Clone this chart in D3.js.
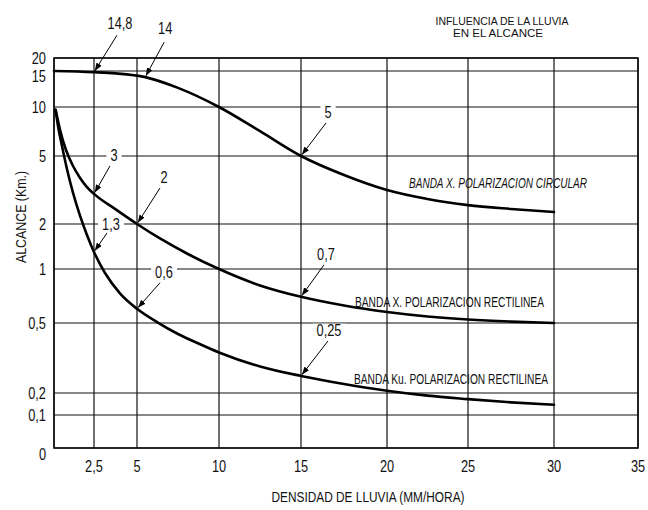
<!DOCTYPE html>
<html>
<head>
<meta charset="utf-8">
<script src="https://cdn.jsdelivr.net/npm/d3@7"></script>
<style>
  html, body { margin: 0; padding: 0; background: #fff; }
  svg { display: block; }
</style>
</head>
<body>
<svg id="chart" width="648" height="510"></svg>
<script>
// Influence of rainfall on radar range: range (km) against rain density (mm/h)

const xTicks = [2.5, 5, 10, 15, 20, 25, 30, 35];
const xTickLabels = ["2,5", "5", "10", "15", "20", "25", "30", "35"];
const yTicks = [0, 0.1, 0.2, 0.5, 1, 2, 5, 10, 15, 20];
const yTickLabels = ["0", "0,1", "0,2", "0,5", "1", "2", "5", "10", "15", "20"];

const seriesNames = [
  "BANDA X. POLARIZACION CIRCULAR",
  "BANDA X. POLARIZACION RECTILINEA",
  "BANDA Ku. POLARIZACION RECTILINEA"
];

// X band, circular polarisation
const circularRain  = [0, 2.5, 3.75, 5.5, 7.5, 10, 12.5, 15, 17.5, 20, 22.5, 25, 27.5, 30];
const circularRange = [15, 14.8, 14.6, 14, 12.4, 10, 7.1, 5, 3.87, 3.16, 2.8, 2.58, 2.45, 2.35];

// X band, linear polarisation
const xLinearRain  = [0.1, 0.38, 0.75, 1.19, 1.63, 2.06, 2.5, 3.72, 5, 6.4, 8.1, 10, 12.5, 15, 17.5, 20, 22.5, 25, 27.5, 30];
const xLinearRange = [9.6, 7.22, 5.44, 4.37, 3.72, 3.29, 3, 2.45, 2, 1.6, 1.26, 1, 0.81, 0.7, 0.626, 0.576, 0.544, 0.523, 0.509, 0.5];

// Ku band, linear polarisation
const kuLinearRain  = [0.1, 0.25, 0.5, 0.81, 1.19, 1.63, 2.06, 2.5, 3.14, 4.01, 5, 6.22, 7.5, 8.78, 10, 12.5, 15, 17.5, 20, 22.5, 25, 27.5, 30];
const kuLinearRange = [9.6, 7.64, 5.76, 4.2, 3.04, 2.23, 1.69, 1.3, 0.95, 0.732, 0.6, 0.506, 0.433, 0.381, 0.34, 0.283, 0.25, 0.225, 0.206, 0.184, 0.165, 0.149, 0.138];

// Value call-outs: series index, rain density, range, text
const annotSeries = [0, 0, 0, 1, 1, 1, 2, 2, 2];
const annotRain   = [2.5, 5.5, 15, 2.5, 5, 15, 2.5, 5, 15];
const annotRange  = [14.8, 14, 5, 3, 2, 0.7, 1.3, 0.6, 0.25];
const annotText   = ["14,8", "14", "5", "3", "2", "0,7", "1,3", "0,6", "0,25"];

// ---- layout ----
const FONT = "'Liberation Sans', Arial, sans-serif";
const INK = "#111";

// squeeze glyphs horizontally to get the narrow drafting lettering
function condense(sel, f) {
  sel.each(function () {
    const w = this.getComputedTextLength();
    d3.select(this).attr("textLength", w * f).attr("lengthAdjust", "spacingAndGlyphs");
  });
}

const svg = d3.select("#chart");
svg.append("rect").attr("width", 648).attr("height", 510).attr("fill", "#fff");

// hand-ruled grid: piecewise spacing on both axes
const xScale = d3.scaleLinear()
  .domain([0, ...xTicks])
  .range([54, 94, 137, 219, 301, 387, 468, 554, 638]);

const yLog = d3.scaleLinear()
  .domain(yTicks.slice(1).map(Math.log10))
  .range([415, 393, 323, 269, 224, 156, 107, 71, 58]);
const yZero = 448;
const yScale = v => (v <= 0 ? yZero : yLog(Math.log10(v)));

const x0 = xScale(0), x1 = xScale(35), yTop = yScale(20), yBot = yScale(0);

// grid
const grid = svg.append("g").attr("stroke", INK).attr("stroke-width", 1.2);
grid.selectAll("line.h").data(yTicks).join("line")
  .attr("class", "h")
  .attr("x1", x0).attr("x2", x1)
  .attr("y1", d => yScale(d)).attr("y2", d => yScale(d));
grid.selectAll("line.v").data([0, ...xTicks]).join("line")
  .attr("class", "v")
  .attr("x1", d => xScale(d)).attr("x2", d => xScale(d))
  .attr("y1", yTop).attr("y2", yBot);

// frame
svg.append("rect")
  .attr("x", x0).attr("y", yTop)
  .attr("width", x1 - x0).attr("height", yBot - yTop)
  .attr("fill", "none").attr("stroke", INK).attr("stroke-width", 1.6);

// y tick labels
const yLabelShift = { 15: 5, 0: 6 };
svg.append("g").selectAll("text").data(yTicks).join("text")
  .attr("x", 46)
  .attr("y", d => yScale(d) + (yLabelShift[d] || 0))
  .attr("dy", "0.36em")
  .attr("text-anchor", "end")
  .attr("font-family", FONT).attr("font-size", 16).attr("fill", INK)
  .text((d, i) => yTickLabels[i])
  .call(condense, 0.8);

// x tick labels
svg.append("g").selectAll("text").data(xTicks).join("text")
  .attr("x", d => xScale(d))
  .attr("y", 472)
  .attr("text-anchor", "middle")
  .attr("font-family", FONT).attr("font-size", 16).attr("fill", INK)
  .text((d, i) => xTickLabels[i])
  .call(condense, 0.8);

// axis titles
svg.append("text")
  .attr("transform", "translate(26,217) rotate(-90)")
  .attr("text-anchor", "middle")
  .attr("font-family", FONT).attr("font-size", 14).attr("fill", INK)
  .attr("textLength", 92).attr("lengthAdjust", "spacingAndGlyphs")
  .text("ALCANCE (Km.)");

svg.append("text")
  .attr("x", 368).attr("y", 502)
  .attr("text-anchor", "middle")
  .attr("font-family", FONT).attr("font-size", 14).attr("fill", INK)
  .attr("textLength", 193).attr("lengthAdjust", "spacingAndGlyphs")
  .text("DENSIDAD DE LLUVIA (MM/HORA)");

// title, two lines
const title = svg.append("g")
  .attr("font-family", FONT).attr("font-size", 11.5).attr("fill", INK)
  .attr("text-anchor", "middle");
title.append("text").attr("x", 502).attr("y", 25)
  .attr("textLength", 133).attr("lengthAdjust", "spacingAndGlyphs")
  .text("INFLUENCIA DE LA LLUVIA");
title.append("text").attr("x", 498).attr("y", 36.5)
  .attr("textLength", 90).attr("lengthAdjust", "spacingAndGlyphs")
  .text("EN EL ALCANCE");

// curves
const series = [
  d3.zip(circularRain, circularRange),
  d3.zip(xLinearRain, xLinearRange),
  d3.zip(kuLinearRain, kuLinearRange)
];
const line = d3.line()
  .x(d => xScale(d[0]))
  .y(d => yScale(d[1]))
  .curve(d3.curveMonotoneX);

svg.append("g").selectAll("path").data(series).join("path")
  .attr("d", line)
  .attr("fill", "none")
  .attr("stroke", "#000")
  .attr("stroke-width", 2.6)
  .attr("stroke-linejoin", "round")
  .attr("stroke-linecap", "round");

// curve names
const nameX = [409, 355, 354];
const nameY = [188, 307, 384];
const nameW = [178, 189, 194];
const nameItalic = [true, false, false];
svg.append("g").selectAll("text").data(seriesNames).join("text")
  .attr("x", (d, i) => nameX[i])
  .attr("y", (d, i) => nameY[i])
  .attr("font-family", FONT).attr("font-size", 14).attr("fill", INK)
  .attr("font-style", (d, i) => nameItalic[i] ? "italic" : "normal")
  .attr("textLength", (d, i) => nameW[i]).attr("lengthAdjust", "spacingAndGlyphs")
  .text(d => d);

// arrowhead
svg.append("defs").append("marker")
  .attr("id", "arrow")
  .attr("viewBox", "0 0 8 6")
  .attr("refX", 8).attr("refY", 3)
  .attr("markerWidth", 8).attr("markerHeight", 6)
  .attr("markerUnits", "userSpaceOnUse")
  .attr("orient", "auto")
  .append("path").attr("d", "M0,0L8,3L0,6Z").attr("fill", "#000");

// call-out offsets from the marked point (label centre, arrow tail)
const labelDX = [26, 20, 27, 20, 27, 25, 17, 27, 28];
const labelDY = [-49, -49, -44, -39, -47, -43, -28, -37, -46];
const tailDX  = [23, 19, 25, 16, 23, 23, 13, 23, 27];
const tailDY  = [-37, -35, -33, -28, -36, -32, -19, -26, -35];

const notes = svg.append("g");
annotText.forEach((t, i) => {
  const px = xScale(annotRain[i]);
  const py = yScale(annotRange[i]);
  const g = notes.append("g");
  const txt = g.append("text")
    .attr("x", px + labelDX[i]).attr("y", py + labelDY[i])
    .attr("dy", "0.36em")
    .attr("text-anchor", "middle")
    .attr("font-family", FONT).attr("font-size", 16).attr("fill", INK)
    .text(t)
    .call(condense, 0.8);
  const bb = txt.node().getBBox();
  g.insert("rect", "text")
    .attr("x", bb.x - 4).attr("y", bb.y + 2)
    .attr("width", bb.width + 8).attr("height", bb.height - 4)
    .attr("fill", "#fff");
  const ax = px + tailDX[i], ay = py + tailDY[i];
  const len = Math.hypot(px - ax, py - ay);
  const k = (len - 1.5) / len;
  g.append("line")
    .attr("x1", ax).attr("y1", ay)
    .attr("x2", ax + (px - ax) * k).attr("y2", ay + (py - ay) * k)
    .attr("stroke", "#000").attr("stroke-width", 1)
    .attr("marker-end", "url(#arrow)");
});
</script>
</body>
</html>
